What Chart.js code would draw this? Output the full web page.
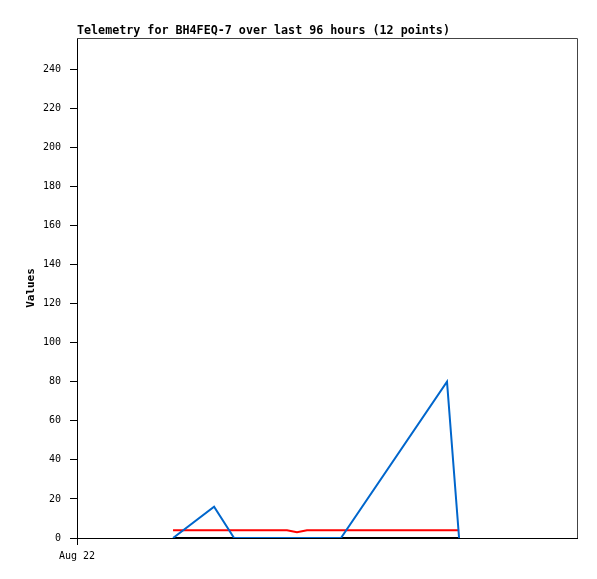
<!DOCTYPE html>
<html>
<head>
<meta charset="utf-8">
<script src="https://cdn.jsdelivr.net/npm/chart.js@4/dist/chart.umd.min.js"></script>
<style>
  html, body { margin: 0; padding: 0; background: #fff; }
  #wrap { width: 597px; height: 579px; }
</style>
</head>
<body>
<div id="wrap"><canvas id="telemetryChart" width="597" height="579"></canvas></div>
<script>
// Hours since the start of Aug 22, one per telemetry frame (12 points)
const hours = [4.61, 6.58, 7.54, 8.40, 9.26, 10.08, 10.56, 11.04, 11.86, 12.67, 17.76, 18.34];
// Channel values
const blueValues = [0, 16, 0, 0, 0, 0, 0, 0, 0, 0, 80, 0];
const redValues = [4, 4, 4, 4, 4, 4, 3, 4, 4, 4, 4, 4];
const blackValues = [0, 0, 0, 0, 0, 0, 0, 0, 0, 0, 0, 0];
const xTickLabels = ["Aug 22"];
const titleText = "Telemetry for BH4FEQ-7 over last 96 hours (12 points)";

const mono = "'DejaVu Sans Mono', 'Liberation Mono', monospace";

function points(values) {
  return values.map((v, i) => ({ x: hours[i], y: v }));
}

// Title at the left edge of the plot + grey frame on top and right
const framePlugin = {
  id: "frame",
  afterDraw(chart) {
    const { ctx, chartArea } = chart;
    ctx.save();
    ctx.strokeStyle = "#444";
    ctx.lineWidth = 1;
    ctx.beginPath();
    ctx.moveTo(chartArea.left, chartArea.top + 0.5);
    ctx.lineTo(chartArea.right + 0.5, chartArea.top + 0.5);
    ctx.lineTo(chartArea.right + 0.5, chartArea.bottom);
    ctx.stroke();
    ctx.fillStyle = "#000";
    ctx.font = "bold 11.7px " + mono;
    ctx.textAlign = "left";
    ctx.textBaseline = "alphabetic";
    ctx.fillText(titleText, chartArea.left, chartArea.top - 4);
    ctx.restore();
  }
};

const ctx = document.getElementById("telemetryChart").getContext("2d");
const chart = new Chart(ctx, {
  type: "line",
  data: {
    datasets: [
      { data: points(blueValues), borderColor: "#0066cc", borderWidth: 2, pointRadius: 0, tension: 0 },
      { data: points(redValues), borderColor: "#ff0000", borderWidth: 2, pointRadius: 0, tension: 0 },
      { data: points(blackValues), borderColor: "#000000", borderWidth: 2, pointRadius: 0, tension: 0 }
    ]
  },
  options: {
    responsive: false,
    animation: false,
    layout: { padding: { top: 38, right: 20, left: 0, bottom: 0 } },
    plugins: {
      legend: { display: false },
      tooltip: { enabled: false },
      title: { display: false }
    },
    scales: {
      x: {
        type: "linear",
        min: 0,
        max: 24,
        afterBuildTicks: scale => { scale.ticks = [{ value: 0 }]; },
        afterFit: scale => { scale.height = 41; },
        ticks: {
          color: "#000",
          font: { family: mono, size: 10 },
          padding: 5,
          maxRotation: 0,
          callback: (v, i) => xTickLabels[i]
        },
        grid: { drawOnChartArea: false, drawTicks: true, tickLength: 7, color: "#000" },
        border: { color: "#000", width: 1 }
      },
      y: {
        min: 0,
        max: 256,
        afterFit: scale => { scale.width = 77; },
        ticks: {
          stepSize: 20,
          includeBounds: false,
          color: "#000",
          font: { family: mono, size: 10 },
          padding: 9
        },
        grid: { drawOnChartArea: false, drawTicks: true, tickLength: 7, color: "#000" },
        border: { color: "#000", width: 1 },
        title: {
          display: true,
          text: "Values",
          color: "#000",
          font: { family: mono, size: 11, weight: "bold" },
          padding: { top: 25, bottom: 0 }
        }
      }
    }
  },
  plugins: [framePlugin]
});
</script>
</body>
</html>
